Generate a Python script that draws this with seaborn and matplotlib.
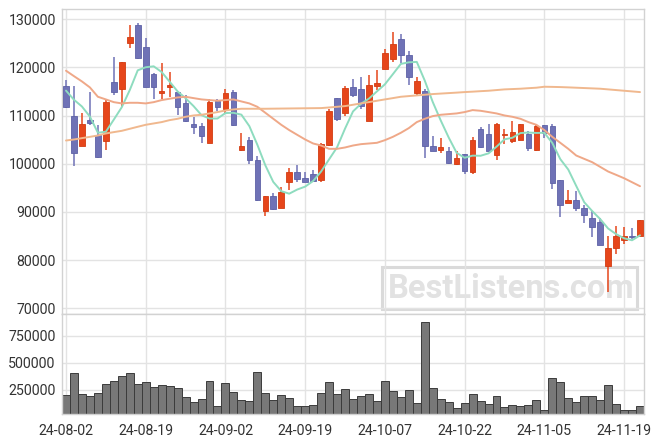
import numpy as np
import pandas as pd
import matplotlib
matplotlib.use("Agg")
import matplotlib.pyplot as plt
import seaborn as sns
from matplotlib.patches import Rectangle

# ---------------- data ----------------
tick_labels = ["24-08-02", "24-08-19", "24-09-02", "24-09-19",
               "24-10-07", "24-10-22", "24-11-05", "24-11-19"]
tick_index = [0, 10, 20, 30, 40, 50, 60, 70]

opens = [116100, 109900, 103735, 109070, 106020, 104775, 116970, 115590, 125150, 128750,
         124180, 118630, 114750, 115860, 114890, 112680, 108240, 107820, 104220, 113090,
         111290, 114890, 102970, 104910, 100750, 90220, 93270, 90920, 96180, 98260,
         97010, 97980, 96600, 103940, 113640, 110600, 115860, 115590, 108930, 116140,
         119740, 121820, 125980, 122510, 114750, 115170, 103800, 102970, 102700, 99920,
         102140, 98260, 107270, 106160, 101860, 105880, 104780, 104910, 106160, 102840,
         108100, 107820, 96740, 91880, 92440, 90920, 88840, 87890, 78720, 82600,
         84260, 85090, 85090]
highs = [117500, 116140, 110600, 114900, 107960, 113230, 122100, 121130, 128750, 129300,
         126050, 118770, 120850, 119050, 114890, 114200, 109630, 108380, 113370, 113370,
         115590, 115300, 106440, 105600, 101720, 93270, 93970, 95210, 99230, 99780,
         98260, 98810, 104220, 111300, 113640, 116140, 117670, 117950, 118360, 119470,
         123760, 127370, 126950, 123350, 117950, 115590, 105740, 105460, 103390, 102560,
         102140, 105600, 107690, 108240, 108520, 107130, 108810, 108240, 106850, 108240,
         108100, 108240, 96740, 94520, 94400, 91470, 90220, 88840, 84960, 87170,
         86900, 86760, 88300]
lows = [111500, 99500, 103700, 107960, 101300, 102970, 114340, 111700, 123970, 121680,
        115860, 113370, 113500, 113780, 110110, 108700, 106160, 104360, 104220, 111010,
        110600, 107820, 102700, 100060, 92300, 89250, 90500, 90920, 94520, 96180,
        96180, 96320, 96320, 103800, 108940, 109900, 113920, 111300, 108930, 115310,
        119740, 121130, 120850, 116280, 114200, 101310, 102560, 102280, 99920, 99780,
        97980, 97980, 103250, 102700, 100890, 104080, 104220, 104910, 102700, 102560,
        105460, 94800, 88990, 91880, 90220, 87750, 84820, 83170, 73310, 81210,
        83290, 84400, 85090]
closes = [111800, 102280, 108240, 108520, 101450, 112810, 114890, 121130, 126260, 121960,
          116000, 115860, 115170, 116280, 111840, 108930, 107690, 105740, 112810, 111840,
          114610, 107960, 103800, 100890, 92580, 93270, 90640, 94240, 98260, 96870,
          96320, 96460, 104080, 110890, 109350, 115730, 114340, 111980, 116280, 116830,
          123070, 124870, 122650, 117940, 117250, 103670, 102700, 103530, 100200, 101310,
          98540, 104910, 103390, 102700, 108240, 106160, 106580, 108240, 103250, 107820,
          106300, 96040, 91470, 92440, 90780, 89400, 86900, 83170, 82600, 84950,
          85090, 84820, 88300]
volumes = [200000, 410000, 216000, 197000, 225000, 309000, 336000, 383000, 410000, 309000,
           327000, 281000, 299000, 290000, 272000, 188000, 142000, 170000, 336000, 105000,
           318000, 235000, 160000, 151000, 420000, 225000, 160000, 207000, 179000, 105000,
           105000, 114000, 225000, 327000, 216000, 262000, 170000, 197000, 216000, 151000,
           336000, 244000, 188000, 253000, 133000, 873000, 272000, 170000, 142000, 86000,
           133000, 216000, 151000, 123000, 197000, 96000, 114000, 105000, 114000, 160000,
           68000, 364000, 327000, 179000, 142000, 197000, 197000, 160000, 299000, 123000,
           68000, 68000, 105000]
ma5_head = [115200, 113300, 111900, 109800]
ma20 = [119330, 118200, 117100, 115860, 113920, 113370, 112800, 112540, 112670, 112670,
        112540, 112800, 113230, 113510, 113780, 113920, 113640, 113370, 113230, 113090,
        113230, 113370, 112950, 112540, 111840, 110600, 109350, 108100, 107000, 106020,
        105050, 104220, 103800, 103110, 103110, 103390, 103800, 104080, 104220, 104360,
        104910, 105600, 106440, 107410, 108660, 109350, 109900, 110180, 110320, 110460,
        110740, 111150, 111010, 110740, 110460, 110040, 109760, 109350, 108660, 108100,
        107000, 105600, 104360, 103110, 101720, 101030, 100340, 99370, 98400, 97710,
        97010, 96180, 95350]
ma60 = [104840, 105050, 105330, 105600, 105880, 106300, 106580, 106850, 107270, 107690,
        108100, 108380, 108660, 109070, 109350, 109760, 110040, 110180, 110460, 110740,
        111080, 111290, 111430, 111430, 111430, 111430, 111450, 111470, 111490, 111510,
        111530, 111550, 111570, 111700, 111840, 111980, 112260, 112540, 112810, 113090,
        113370, 113640, 113920, 114060, 114200, 114340, 114480, 114580, 114680, 114780,
        114890, 114980, 115080, 115170, 115310, 115450, 115520, 115590, 115700, 115800,
        116000, 115970, 115930, 115870, 115800, 115730, 115660, 115590, 115450, 115310,
        115170, 115030, 114890]

# ---------------- frame ----------------
n = len(closes)
idx = np.arange(n)
df = pd.DataFrame(dict(i=idx, open=opens, high=highs, low=lows, close=closes,
                       volume=volumes, ma20=ma20, ma60=ma60))
ma5 = df["close"].rolling(5).mean()
ma5.iloc[:4] = ma5_head
df["ma5"] = ma5

UP = "#e6461b"
DOWN = "#6f72b6"
UP_EDGE = "#d23c12"
DOWN_EDGE = "#5e61a6"
GRID = "#e3e3e3"
SPINE = "#d2d2d2"
TXT = "#333333"

sns.set_theme(style="whitegrid", rc={
    "grid.color": GRID, "grid.linewidth": 1.0,
    "axes.edgecolor": SPINE, "axes.linewidth": 1.0,
})
plt.rcParams["font.family"] = ["Roboto", "DejaVu Sans"]

W, H = 663, 444
fig = plt.figure(figsize=(W / 100, H / 100), dpi=100)
ax1 = fig.add_axes([62 / W, 1 - 314 / H, 582 / W, 305 / H])
ax2 = fig.add_axes([62 / W, 1 - 414 / H, 582 / W, 100 / H], sharex=ax1)

# watermark
ax1.add_patch(Rectangle((382 / W, 1 - 309 / H), 255 / W, 42 / H,
                        transform=fig.transFigure, fill=False,
                        edgecolor="#dadada", lw=2.2, zorder=0.1))
ax1.text(511 / W, 1 - 289 / H, "BestListens.com", transform=fig.transFigure,
         ha="center", va="center", fontsize=23.5, fontweight="bold",
         color="#e2e2e2", zorder=0.1)

# candles
up = df["close"] >= df["open"]
colors = np.where(up, UP, DOWN)
edges = np.where(up, UP_EDGE, DOWN_EDGE)
ax1.vlines(df["i"], df["low"], df["high"], colors=colors, lw=1.1, zorder=3)
body_lo = np.minimum(df["open"], df["close"])
body_h = np.maximum(np.abs(df["close"] - df["open"]), 180)
ax1.bar(df["i"], body_h, bottom=body_lo, width=0.7, color=colors,
        edgecolor=edges, linewidth=0.6, zorder=4)

# moving averages
sns.lineplot(data=df, x="i", y="ma5", color="#8edcbf", lw=1.4, ax=ax1, zorder=5)
sns.lineplot(data=df, x="i", y="ma20", color="#efa888", lw=1.4, ax=ax1, zorder=5)
sns.lineplot(data=df, x="i", y="ma60", color="#f0b88e", lw=1.4, ax=ax1, zorder=5)

# volume
sns.barplot(data=df, x="i", y="volume", native_scale=True, color="#787878",
            saturation=1, width=1.0, edgecolor="#3c3c3c", linewidth=0.7, ax=ax2)

# axes formatting
ax1.set_xlim(-0.5, 72.5)
ax1.set_ylim(68820, 132140)
ax1.set_yticks(np.arange(70000, 130001, 10000))
ax1.set_yticklabels([str(v) for v in range(70000, 130001, 10000)])
ax2.set_ylim(28000, 951000)
ax2.set_yticks([250000, 500000, 750000])
ax2.set_yticklabels(["250000", "500000", "750000"])
ax2.set_xticks(tick_index)
ax2.set_xticklabels(tick_labels)
plt.setp(ax1.get_xticklabels(), visible=False)

for ax in (ax1, ax2):
    ax.set_xlabel("")
    ax.set_ylabel("")
    ax.grid(True, axis="both", color=GRID, lw=1.0)
    ax.set_axisbelow(True)
    ax.tick_params(axis="both", length=0, labelsize=10.2, colors=TXT)
    ax.tick_params(axis="y", pad=4.5)
    ax.tick_params(axis="x", pad=7)
    for s in ax.spines.values():
        s.set_color(SPINE)
        s.set_linewidth(1.0)
        s.set_visible(True)

fig.savefig("out.png", dpi=100, facecolor="white")
